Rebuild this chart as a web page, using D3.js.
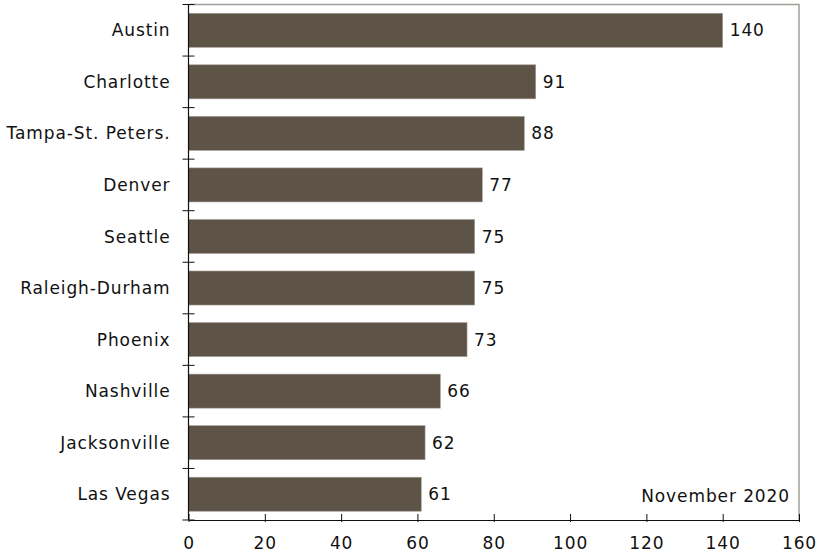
<!DOCTYPE html>
<html>
<head>
<meta charset="utf-8">
<script src="https://cdn.jsdelivr.net/npm/d3@7"></script>
<style>
  body { margin: 0; background: #fff; }
  text { font-family: "DejaVu Sans", Verdana, sans-serif; fill: #111; letter-spacing: 0.9px; }
</style>
</head>
<body>
<div id="app"></div>
<script>
const cities = ['Austin', 'Charlotte', 'Tampa-St. Peters.', 'Denver', 'Seattle',
  'Raleigh-Durham', 'Phoenix', 'Nashville', 'Jacksonville', 'Las Vegas']
const values = [140, 91, 88, 77, 75, 75, 73, 66, 62, 61]
const xTicks = [0, 20, 40, 60, 80, 100, 120, 140, 160]
const note = 'November 2020'

const W = 817, H = 556
const m = { left: 188.5, right: 18, top: 4.5, bottom: 36 }

const svg = d3.select('#app').append('svg').attr('width', W).attr('height', H)

const x = d3.scaleLinear().domain([0, 160]).range([m.left, W - m.right])
const y = d3.scaleBand().domain(cities).range([m.top, H - m.bottom]).paddingInner(0.34).paddingOuter(0.17)

// frame (top + right, gray)
svg.append('path')
  .attr('d', `M${x(0)},${m.top}H${x(160)}V${H - m.bottom}`)
  .attr('fill', 'none').attr('stroke', '#a39d97').attr('stroke-width', 1.5)

// bars
svg.selectAll('rect.bar').data(values).enter().append('rect')
  .attr('class', 'bar')
  .attr('x', x(0))
  .attr('y', (d, i) => y(cities[i]))
  .attr('width', d => x(d) - x(0))
  .attr('height', y.bandwidth())
  .attr('fill', '#5e5347')
  .attr('stroke', '#a39d97').attr('stroke-width', 0.6)

// value labels
svg.selectAll('text.val').data(values).enter().append('text')
  .attr('class', 'val')
  .attr('x', d => x(d) + 7)
  .attr('y', (d, i) => y(cities[i]) + y.bandwidth() / 2)
  .attr('dy', '0.36em')
  .attr('font-size', 17)
  .text(d => d)

// y axis: line + ticks at band boundaries
const step = y.step()
const bounds = d3.range(cities.length + 1).map(i => m.top + i * step)
svg.append('line').attr('x1', x(0)).attr('x2', x(0)).attr('y1', m.top).attr('y2', H - m.bottom)
  .attr('stroke', '#111').attr('stroke-width', 1.2)
svg.selectAll('line.ytick').data(bounds).enter().append('line')
  .attr('class', 'ytick')
  .attr('x1', x(0) - 6).attr('x2', x(0) + 6)
  .attr('y1', d => d).attr('y2', d => d)
  .attr('stroke', '#111').attr('stroke-width', 1)
svg.selectAll('text.cat').data(cities).enter().append('text')
  .attr('class', 'cat')
  .attr('x', x(0) - 18)
  .attr('y', d => y(d) + y.bandwidth() / 2)
  .attr('dy', '0.36em')
  .attr('text-anchor', 'end')
  .attr('font-size', 17)
  .text(d => d)

// x axis
const xAxis = svg.append('g').attr('transform', `translate(0,${H - m.bottom})`)
  .call(d3.axisBottom(x).tickValues(xTicks).tickSize(0).tickPadding(17))
xAxis.select('.domain').attr('stroke', '#111').attr('stroke-width', 1.2)
xAxis.selectAll('.tick line').attr('y1', -6).attr('y2', 2).attr('stroke', '#111')
xAxis.selectAll('.tick text').attr('font-size', 17).attr('font-family', '"DejaVu Sans", Verdana, sans-serif').attr('fill', '#111')

// note
svg.append('text')
  .attr('x', x(160) - 9).attr('y', H - m.bottom - 18)
  .attr('text-anchor', 'end').attr('font-size', 17)
  .text(note)
</script>
</body>
</html>
